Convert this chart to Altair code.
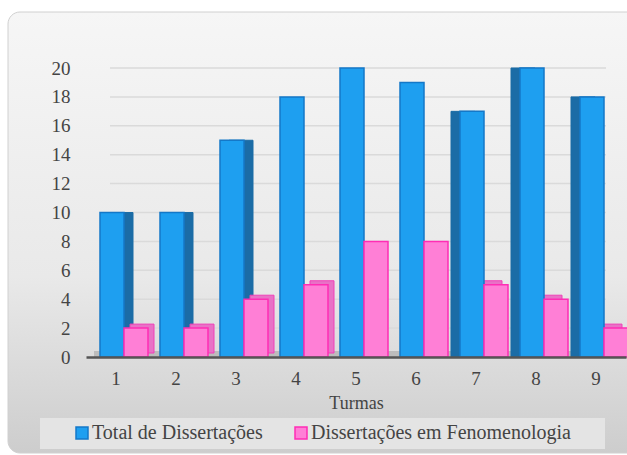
import altair as alt
import pandas as pd

turmas = ["1", "2", "3", "4", "5", "6", "7", "8", "9"]
total = [10, 10, 15, 18, 20, 19, 17, 20, 18]
feno = [2, 2, 4, 5, 8, 8, 5, 4, 2]
series = ["Total de Dissertações", "Dissertações em Fenomenologia"]
fills = ["#1e9ff0", "#ff7fd6"]
strokes = ["#1478c8", "#ff2db5"]
y_ticks = list(range(0, 21, 2))
left_group = ["1", "2", "3"]
right_group = ["7", "8", "9"]

rows = []
for t, a, b in zip(turmas, total, feno):
    rows.append({"Turma": t, "Serie": series[0], "Valor": a})
    rows.append({"Turma": t, "Serie": series[1], "Valor": b})
df = pd.DataFrame(rows)

FONT = "Liberation Serif"
W, H = 540, 289
yscale = alt.Scale(domain=[0, 20], nice=False)
xscale = alt.Scale(domain=turmas, paddingInner=0.2, paddingOuter=0.1)
offscale = alt.Scale(domain=series, range=[8, 56])

xaxis = alt.Axis(labelAngle=0, labelFont=FONT, labelFontSize=19, labelColor="#444",
                 titleFont=FONT, titleFontSize=18, titleColor="#444", titleFontWeight="normal",
                 domainColor="#555", domainWidth=2.5, ticks=False, labelPadding=12,
                 titlePadding=6, grid=False, zindex=1)
yaxis = alt.Axis(values=y_ticks, labelFont=FONT, labelFontSize=19, labelColor="#444",
                 labelOverlap=False, domain=False, ticks=False, labelPadding=16,
                 grid=False, zindex=1)

bg = alt.Chart(pd.DataFrame({"k": [0]})).mark_rect(
    cornerRadius=12,
    fill=alt.Gradient(
        gradient="linear",
        stops=[alt.GradientStop(color="#f6f6f6", offset=0),
               alt.GradientStop(color="#e9e9e9", offset=0.6),
               alt.GradientStop(color="#cdcdcd", offset=1)],
        x1=0, x2=0, y1=0, y2=1,
    ),
    stroke="#d0d0d0",
).encode(x=alt.value(-78), x2=alt.value(W + 36), y=alt.value(-56), y2=alt.value(H + 96))

legbox = alt.Chart(pd.DataFrame({"k": [0]})).mark_rect(fill="#e4e4e4").encode(
    x=alt.value(-46), x2=alt.value(519), y=alt.value(350), y2=alt.value(381)
)

grid = alt.Chart(pd.DataFrame({"v": y_ticks[1:]})).mark_rule(color="#dadada", strokeWidth=1.5).encode(
    y=alt.Y("v:Q", scale=yscale, axis=yaxis, title=None),
    x=alt.value(24), x2=alt.value(W - 20),
)

floor = alt.Chart(pd.DataFrame({"k": [0]})).mark_rect(fill="#b4b4b4", opacity=0.8).encode(
    x=alt.value(8), x2=alt.value(W - 4), y=alt.value(H - 6), y2=alt.value(H)
)

def depth(series_name, group, base, dx, dy, color, stroke):
    return alt.Chart(df).transform_filter(
        alt.FieldEqualPredicate(field="Serie", equal=series_name)
    ).transform_filter(
        alt.FieldOneOfPredicate(field="Turma", oneOf=group)
    ).mark_bar(width=24, xOffset=base + dx, yOffset=dy, color=color, stroke=stroke,
               strokeWidth=1).encode(
        x=alt.X("Turma:N", sort=turmas, scale=xscale, axis=xaxis, title="Turmas"),
        y=alt.Y("Valor:Q", scale=yscale, axis=yaxis, title=None),
    )

blue_l = depth(series[0], left_group, -4, 9, 0, "#1b6ca6", "#1b6ca6")
blue_r = depth(series[0], right_group, -4, -9, 0, "#1b6ca6", "#1b6ca6")
pink_l = depth(series[1], left_group + ["4"], 20, 6, -4, "#e872c6", "#f040b8")
pink_r = depth(series[1], right_group, 20, -6, -4, "#e872c6", "#f040b8")

color_scale = alt.Scale(domain=series, range=fills)
stroke_scale = alt.Scale(domain=series, range=strokes)

bars = alt.Chart(df).mark_bar(strokeWidth=1.5).encode(
    x=alt.X("Turma:N", sort=turmas, title="Turmas", scale=xscale, axis=xaxis),
    xOffset=alt.XOffset("Serie:N", sort=series, scale=offscale),
    y=alt.Y("Valor:Q", title=None, scale=yscale, axis=yaxis),
    color=alt.Color("Serie:N", scale=color_scale, sort=series,
                    legend=alt.Legend(title=None, orient="none", direction="horizontal",
                                      legendX=-14, legendY=355, symbolType="square",
                                      symbolSize=144, symbolStrokeWidth=1.5,
                                      labelFont=FONT, labelFontSize=20, labelColor="#444",
                                      labelLimit=400, columnPadding=28, labelOffset=0)),
    stroke=alt.Stroke("Serie:N", scale=stroke_scale, sort=series, legend=None),
)

chart = alt.layer(bg, legbox, grid, floor, blue_l, blue_r, pink_l, pink_r, bars).properties(
    width=W, height=H, background="white",
    padding={"left": 86, "top": 68, "right": 1, "bottom": 98},
    autosize=alt.AutoSizeParams(type="none"),
).configure_view(stroke=None)

chart.save("out.html", embed_options={"renderer": "svg", "actions": False})
